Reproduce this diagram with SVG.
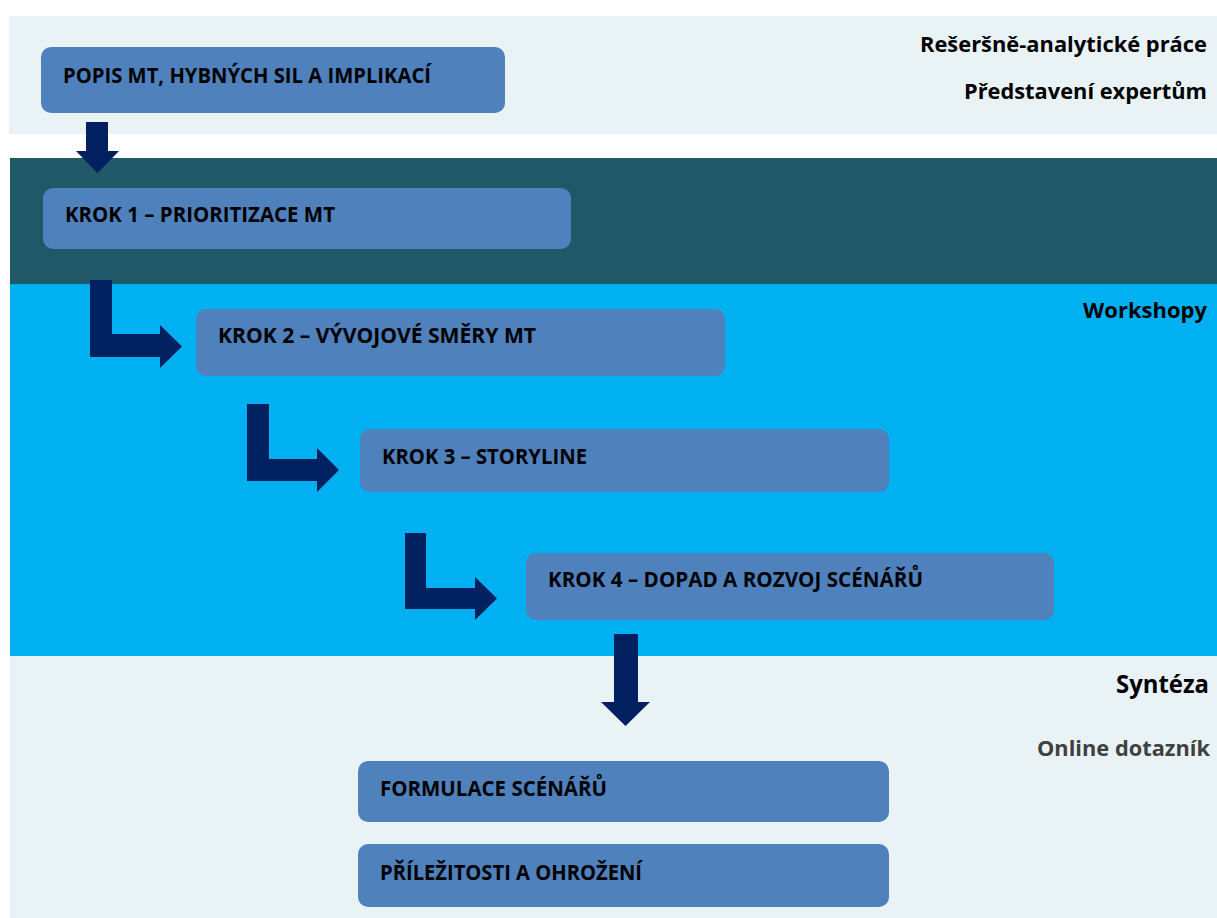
<svg xmlns="http://www.w3.org/2000/svg" width="1217" height="918" viewBox="0 0 1217 918">
<style>
.band-light{fill:#E9F3F6}
.box{fill:#4F81BD}
.arrow{fill:#002060}
.lbl{font-family:"Open Sans","Liberation Sans",sans-serif;font-weight:700;font-size:20.5px;fill:#000}
.side{font-family:"Open Sans","Liberation Sans",sans-serif;font-weight:700;font-size:21px;fill:#000;text-anchor:end}
</style>
<rect width="1217" height="918" fill="#FFFFFF"/>
<g id="bands">
<rect class="band-light" x="9" y="16" width="1208" height="118"/>
<rect x="10" y="158" width="1207" height="126" fill="#215868"/>
<rect x="10" y="284" width="1207" height="372" fill="#00B0F0"/>
<rect class="band-light" x="10" y="656" width="1207" height="262"/>
</g>
<g id="side-labels">
<text class="side" x="1207" y="52" textLength="287" lengthAdjust="spacingAndGlyphs">Rešeršně-analytické práce</text>
<text class="side" x="1207" y="99" textLength="243" lengthAdjust="spacingAndGlyphs">Představení expertům</text>
<text class="side" x="1207" y="318" textLength="124" lengthAdjust="spacingAndGlyphs">Workshopy</text>
<text class="side" x="1209" y="693" style="font-size:24.5px" textLength="93" lengthAdjust="spacingAndGlyphs">Syntéza</text>
<text class="side" x="1210" y="756" style="fill:#404040" textLength="173" lengthAdjust="spacingAndGlyphs">Online dotazník</text>
</g>
<g id="connectors">
<polygon class="arrow" points="86,122 108,122 108,151 119,151 97.5,173 76,151 86,151"/>
<polygon class="arrow" points="90,280 112,280 112,334 160,334 160,325 182,346.5 160,368 160,357 90,357"/>
<polygon class="arrow" points="247,404 269,404 269,459 317,459 317,448 339,470 317,492 317,481 247,481"/>
<polygon class="arrow" points="405,533 426,533 426,588 475,588 475,577 497,598.5 475,620 475,609 405,609"/>
<polygon class="arrow" points="614,634 638,634 638,702 650,702 625.5,726 601,702 614,702"/>
</g>
<g id="node-popis">
<rect class="box" x="41" y="47" width="464" height="66" rx="10"/>
<text class="lbl" x="63" y="83" textLength="368" lengthAdjust="spacingAndGlyphs">POPIS MT, HYBNÝCH SIL A IMPLIKACÍ</text>
</g>
<g id="node-krok1">
<rect class="box" x="43" y="188" width="528" height="61" rx="10"/>
<text class="lbl" x="65" y="222" textLength="270" lengthAdjust="spacingAndGlyphs">KROK 1 – PRIORITIZACE MT</text>
</g>
<g id="node-krok2">
<rect class="box" x="196" y="309" width="529" height="67" rx="10"/>
<text class="lbl" x="218" y="343" textLength="318" lengthAdjust="spacingAndGlyphs">KROK 2 – VÝVOJOVÉ SMĚRY MT</text>
</g>
<g id="node-krok3">
<rect class="box" x="360" y="429" width="529" height="63" rx="10"/>
<text class="lbl" x="382" y="464" textLength="205" lengthAdjust="spacingAndGlyphs">KROK 3 – STORYLINE</text>
</g>
<g id="node-krok4">
<rect class="box" x="526" y="553" width="528" height="67" rx="10"/>
<text class="lbl" x="548" y="587" textLength="375" lengthAdjust="spacingAndGlyphs">KROK 4 – DOPAD A ROZVOJ SCÉNÁŘŮ</text>
</g>
<g id="node-formulace">
<rect class="box" x="358" y="761" width="531" height="61" rx="10"/>
<text class="lbl" x="380" y="796" textLength="227" lengthAdjust="spacingAndGlyphs">FORMULACE SCÉNÁŘŮ</text>
</g>
<g id="node-prilezitosti">
<rect class="box" x="358" y="844" width="531" height="63" rx="10"/>
<text class="lbl" x="380" y="880" textLength="262" lengthAdjust="spacingAndGlyphs">PŘÍLEŽITOSTI A OHROŽENÍ</text>
</g>
</svg>
